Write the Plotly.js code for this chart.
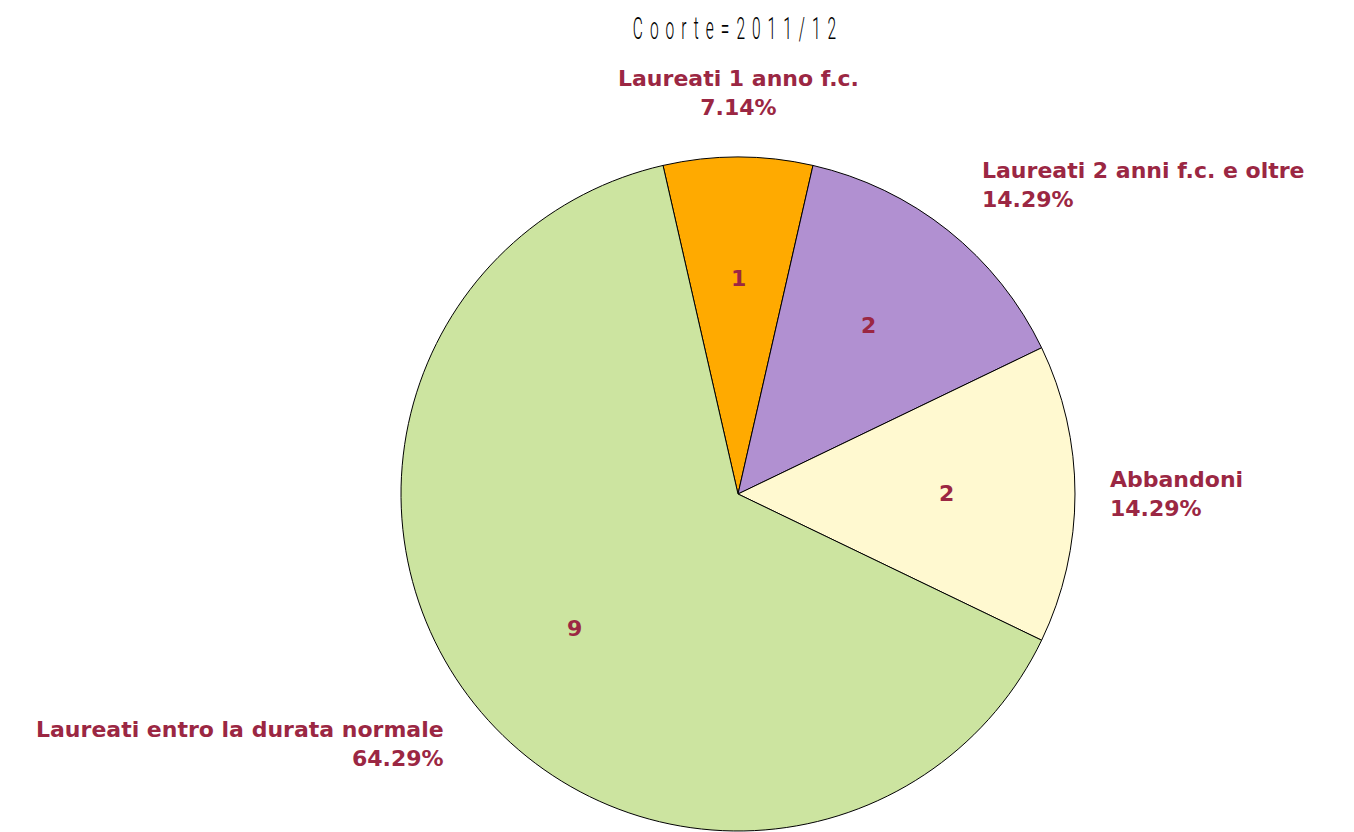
<!DOCTYPE html>
<html>
<head>
<meta charset="utf-8">
<script src="https://cdn.plot.ly/plotly-3.0.1.min.js"></script>
<style>
  html, body { margin: 0; padding: 0; background: #ffffff; }
  #chart { width: 1354px; height: 832px; }
  .gtitle { letter-spacing: 14px; transform-box: fill-box; transform-origin: center; transform: scaleX(0.5); }
</style>
</head>
<body>
<div id="chart"></div>
<script>
const titleText = "Coorte=2011/12";
const categories = ["Laureati 1 anno f.c.", "Laureati 2 anni f.c. e oltre", "Abbandoni", "Laureati entro la durata normale"];
const counts = [1, 2, 2, 9];
const sliceColors = ["#FFAA00", "#B190D1", "#FFF9D0", "#CCE4A0"];
const textColor = "#9B2743";

const W = 1354, H = 832;
const cx = 738, cy = 494, R = 337;
const mT = cy - R, mB = H - (cy + R);
const plotH = H - mT - mB;

const total = counts.reduce((a, b) => a + b, 0);
const rotation = -(counts[0] / total) * 180;

function toPaper(px, py) { return { x: px / W, y: (H - mB - py) / plotH }; }

// label and value annotations computed from slice mid-angles
const annotations = [];
let acc = 0;
counts.forEach((v, i) => {
  const mid = (rotation + (acc + v / 2) / total * 360) * Math.PI / 180;
  acc += v;
  const s = Math.sin(mid), c = Math.cos(mid);
  // outside label
  const lp = toPaper(cx + 1.11 * R * s + (s > 0.2 && s < 0.9 ? 9 : 0) - (s >= 0.9 ? 4 : 0),
                     cy - 1.19 * R * c + (s > 0.2 && s < 0.9 ? 5 : 0));
  let xa = 'center', al = 'center';
  if (s > 0.2) { xa = 'left'; al = 'left'; }
  else if (s < -0.2) { xa = 'right'; al = 'right'; }
  const pct = (v / total * 100).toFixed(2) + '%';
  annotations.push({
    xref: 'paper', yref: 'paper',
    x: lp.x, y: lp.y,
    xanchor: xa, yanchor: 'middle', align: al,
    text: '<b>' + categories[i] + '<br>' + pct + '</b>',
    showarrow: false,
    font: { family: 'DejaVu Sans', size: 22, color: textColor }
  });
  // inside value
  const vp = toPaper(cx + 0.62 * R * s, cy - 0.64 * R * c);
  annotations.push({
    xref: 'paper', yref: 'paper',
    x: vp.x, y: vp.y,
    xanchor: 'center', yanchor: 'middle',
    text: '<b>' + v + '</b>',
    showarrow: false,
    font: { family: 'DejaVu Sans', size: 22, color: textColor }
  });
});

const data = [{
  type: 'pie',
  labels: categories,
  values: counts,
  sort: false,
  direction: 'clockwise',
  rotation: rotation,
  marker: { colors: sliceColors, line: { color: '#000000', width: 1 } },
  textinfo: 'none',
  textposition: 'none',
  domain: { x: [(cx - R) / W, (cx + R) / W], y: [0, 1] },
  hoverinfo: 'label+value+percent'
}];

const layout = {
  width: W, height: H,
  margin: { l: 0, r: 0, t: mT, b: mB, pad: 0 },
  paper_bgcolor: '#ffffff',
  showlegend: false,
  title: {
    text: titleText,
    font: { family: 'Roboto', size: 31, color: '#000000', weight: 300 },
    xref: 'paper', x: cx / W, xanchor: 'center',
    yref: 'container', y: 1 - 28 / H, yanchor: 'middle'
  },
  annotations: annotations
};

Plotly.newPlot('chart', data, layout, { displayModeBar: false, staticPlot: true });
</script>
</body>
</html>
